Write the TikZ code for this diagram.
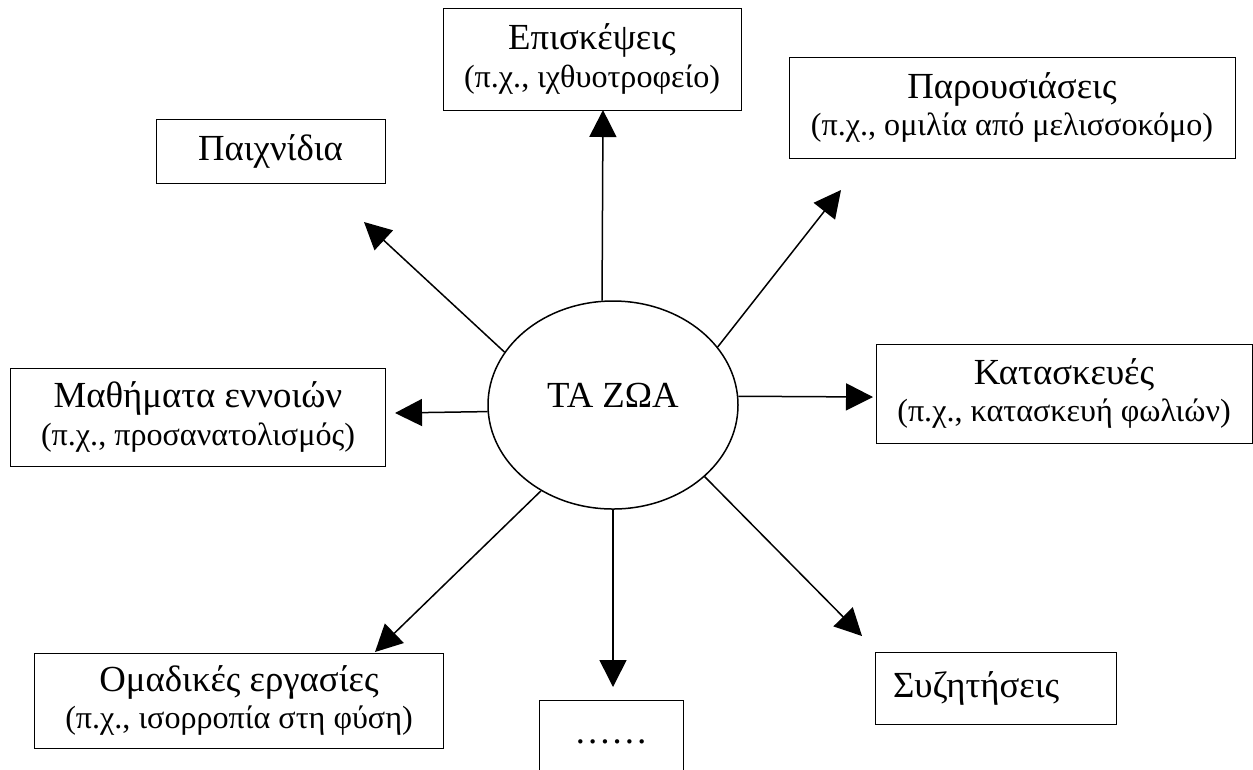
\documentclass[tikz,border=0pt]{standalone}
\usepackage{fontspec}
\setmainfont{Liberation Serif}
\usetikzlibrary{arrows.meta}
\usetikzlibrary{shapes.geometric}

\newcommand{\lineA}{\fontsize{14.7pt}{15pt}\selectfont}
\newcommand{\lineB}{\fontsize{12.85pt}{15pt}\selectfont}

\tikzset{
  BoxStyle/.style={draw, line width=0.4pt, rectangle, align=center, font=\lineA, inner sep=0pt},
  HubStyle/.style={draw, line width=0.6pt, ellipse, font=\lineA, inner sep=0pt},
  EdgeStyle/.style={line width=0.6pt, -{Triangle[length=10.8pt,width=10.8pt]}}
}

\begin{document}
\begin{tikzpicture}[x=0.4pt, y=-0.4pt]
\useasboundingbox (0,0) rectangle (1253,769);
\node[HubStyle, minimum width=100pt, minimum height=83.2pt, text height=10pt, text depth=8pt] (zoa) at (613,405) {ΤΑ ΖΩΑ};
% boxes round the hub
\node[BoxStyle, minimum width=119.2pt, minimum height=40.8pt] (epi) at (592,59) {Επισκέψεις\\{\lineB (π.χ., ιχθυοτροφείο)}};
\node[BoxStyle, minimum width=178.4pt, minimum height=40.4pt] (par) at (1012,107.5) {Παρουσιάσεις\\{\lineB (π.χ., ομιλία από μελισσοκόμο)}};
\node[BoxStyle, minimum width=91.6pt, minimum height=25.6pt] (pai) at (270.5,151) {Παιχνίδια};
\node[BoxStyle, minimum width=150.4pt, minimum height=39.6pt] (kat) at (1064,393.5) {Κατασκευές\\{\lineB (π.χ., κατασκευή φωλιών)}};
\node[BoxStyle, minimum width=149.6pt, minimum height=39.2pt] (mat) at (198,417) {Μαθήματα εννοιών\\{\lineB (π.χ., προσανατολισμός)}};
\node[BoxStyle, minimum width=163.2pt, minimum height=38pt] (oma) at (239,700.5) {Ομαδικές εργασίες\\{\lineB (π.χ., ισορροπία στη φύση)}};
\node[BoxStyle, align=left, text width=82pt, inner xsep=7.2pt, minimum height=28.8pt] (syz) at (995.5,688) {Συζητήσεις};
\node[BoxStyle, anchor=north, minimum width=57.6pt, text height=17.2pt, text depth=30pt] (dots) at (611,700) {……};
% arrow tips
\coordinate (tepi) at (603,110);
\coordinate (tpar) at (841,190);
\coordinate (tkat) at (873,397);
\coordinate (tsyz) at (862,636);
\coordinate (tdots) at (613,687);
\coordinate (toma) at (375,652);
\coordinate (tmat) at (395,413);
\coordinate (tpai) at (364,222);
\draw[EdgeStyle] (zoa.96) -- (tepi);
\draw[EdgeStyle] (zoa.29) -- (tpar);
\draw[EdgeStyle] (zoa.4) -- (tkat);
\draw[EdgeStyle] (zoa.322) -- (tsyz);
\draw[EdgeStyle] (zoa.270) -- (tdots);
\draw[EdgeStyle] (zoa.230) -- (toma);
\draw[EdgeStyle] (zoa.183) -- (tmat);
\draw[EdgeStyle] (zoa.154) -- (tpai);
\end{tikzpicture}
\end{document}
